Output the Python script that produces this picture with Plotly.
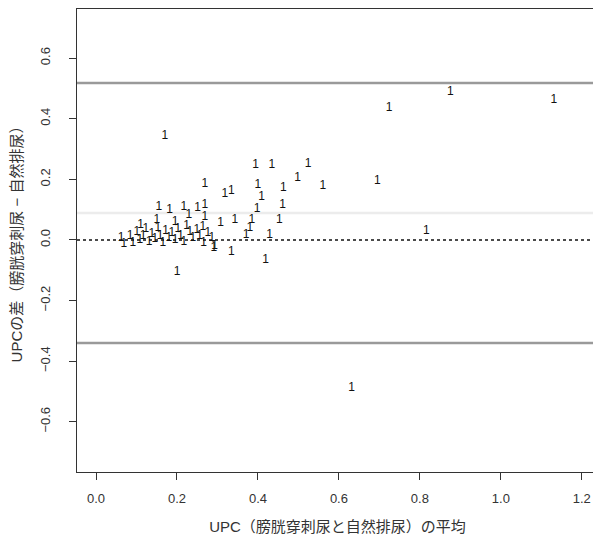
import plotly.graph_objects as go

# --- data ---
upc_mean = [
    0.170, 0.724, 0.875, 1.131, 0.631, 0.695, 0.816, 0.200,
    0.394, 0.434, 0.524, 0.498, 0.560, 0.269, 0.318, 0.334, 0.400, 0.409,
    0.463, 0.461, 0.453, 0.398, 0.385, 0.380, 0.371, 0.429, 0.419, 0.334,
    0.291, 0.308, 0.343, 0.155, 0.182, 0.217, 0.229, 0.251, 0.269, 0.269,
    0.264,
    0.062, 0.069, 0.084, 0.091, 0.101, 0.108, 0.116, 0.123, 0.131, 0.138,
    0.145, 0.153, 0.158, 0.165, 0.172, 0.180, 0.187, 0.195, 0.202, 0.209,
    0.217, 0.224, 0.232, 0.239, 0.249, 0.256, 0.266, 0.276, 0.286, 0.293,
    0.110, 0.195, 0.150,
]
upc_diff = [
    0.343, 0.436, 0.488, 0.462, -0.488, 0.195, 0.030, -0.105,
    0.248, 0.248, 0.250, 0.204, 0.179, 0.185, 0.152, 0.162, 0.181, 0.143,
    0.171, 0.116, 0.066, 0.102, 0.066, 0.040, 0.017, 0.017, -0.066, -0.039,
    -0.026, 0.057, 0.066, 0.109, 0.099, 0.109, 0.083, 0.106, 0.116, 0.077,
    0.044,
    0.007, -0.013, 0.013, -0.010, 0.026, 0.000, 0.013, 0.036, -0.007, 0.020,
    0.003, 0.040, 0.013, -0.010, 0.030, 0.007, 0.023, 0.000, 0.036, 0.013,
    -0.007, 0.046, 0.026, 0.007, 0.033, 0.013, -0.010, 0.023, 0.007, -0.020,
    0.050, 0.060, 0.065,
]
mean_diff = 0.089
upper_loa = 0.518
lower_loa = -0.340
zero_line = 0.0

x_ticks = [0.0, 0.2, 0.4, 0.6, 0.8, 1.0, 1.2]
y_ticks = [-0.6, -0.4, -0.2, 0.0, 0.2, 0.4, 0.6]

x_title = "UPC（膀胱穿刺尿と自然排尿）の平均"
y_title = "UPCの差（膀胱穿刺尿 − 自然排尿）"

FONT = "Liberation Sans, Arial, Noto Sans CJK JP, sans-serif"

fig = go.Figure()
fig.add_trace(go.Scatter(
    x=upc_mean, y=upc_diff, mode="text", text=["1"] * len(upc_mean),
    textposition="middle center",
    textfont=dict(family=FONT, size=12, color="#111111"),
    showlegend=False, hoverinfo="x+y",
))

def hline(y, color, width, dash="solid"):
    fig.add_shape(type="line", xref="x domain", x0=0, x1=1, yref="y", y0=y, y1=y,
                  line=dict(color=color, width=width, dash=dash), layer="below")

hline(upper_loa, "#9a9a9a", 2.5)
hline(lower_loa, "#9a9a9a", 2.5)
hline(mean_diff, "#ececec", 2.5)
hline(zero_line, "#111111", 1.5, "dot")

axis_common = dict(
    showline=True, linecolor="#333333", linewidth=1.2, mirror=True,
    ticks="outside", ticklen=7, tickcolor="#333333", tickwidth=1,
    showgrid=False, zeroline=False, tickformat=".1f", automargin=False,
    tickfont=dict(family=FONT, size=13, color="#333333"),
)

# page body has an 8px default margin; size the figure so the plot box lands
# where the reference has it and no scrollbars appear
fig.update_layout(
    width=593, height=542,
    margin=dict(l=69, r=3, t=1, b=78),
    paper_bgcolor="white", plot_bgcolor="white",
    font=dict(family=FONT, color="#333333"),
    xaxis=dict(range=[-0.047, 1.24], tickvals=x_ticks, ticklabelstandoff=7,
               title=dict(text=x_title, font=dict(family=FONT, size=15), standoff=16),
               **axis_common),
    yaxis=dict(range=[-0.766, 0.762], tickvals=y_ticks, tickangle=-90,
               ticklabelstandoff=14,
               title=dict(text=y_title, font=dict(family=FONT, size=15), standoff=16),
               **axis_common),
)

fig.write_html("out.html")
